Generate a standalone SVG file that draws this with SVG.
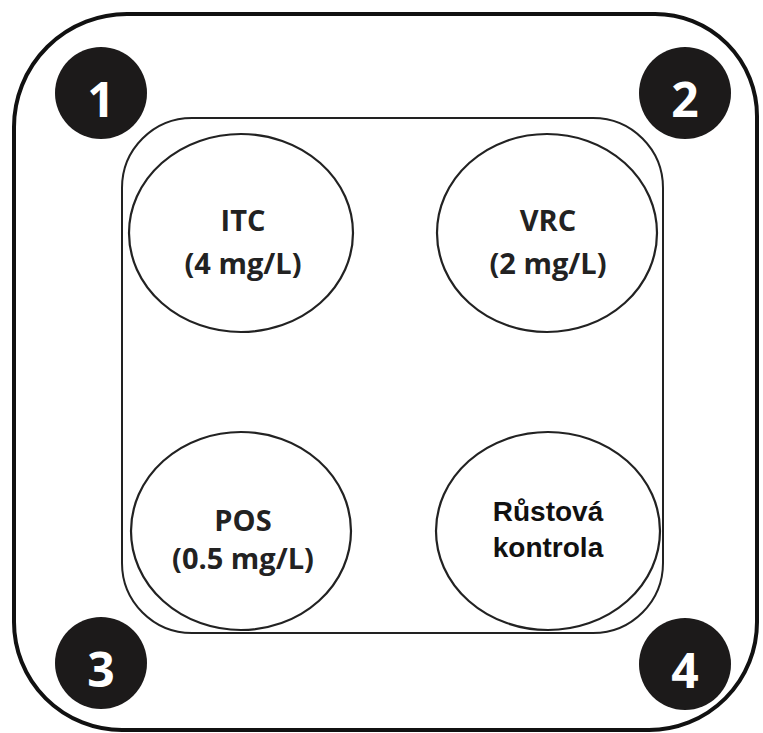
<svg xmlns="http://www.w3.org/2000/svg" width="763" height="733" viewBox="0 0 763 733">
  <style>
    .frame { fill: none; stroke: #111; stroke-width: 4; }
    .tray { fill: none; stroke: #222; stroke-width: 2; }
    .well { fill: #fff; stroke: #222; stroke-width: 2.2; }
    .badge { fill: #1c1a1a; }
    .num { font-family: "Open Sans", "DejaVu Sans", sans-serif; font-weight: bold; font-size: 48px; fill: #fff; text-anchor: middle; }
    .lbl { font-family: "Open Sans", "DejaVu Sans", sans-serif; font-weight: bold; font-size: 29px; fill: #222; text-anchor: middle; }
    .lbl2 { font-family: "Liberation Sans", Arial, sans-serif; font-weight: bold; font-size: 28px; fill: #111; text-anchor: middle; }
  </style>

  <!-- plate outline -->
  <path id="plate" class="frame" d="M128,14 H655 A102,102 0 0 1 757,116 V622 A108,108 0 0 1 649,730 H122 A108,108 0 0 1 14,622 V127 A113,113 0 0 1 128,14 Z"/>

  <!-- tray holding the four wells -->
  <rect id="tray" class="tray" x="122" y="118" width="541" height="515" rx="70" ry="70"/>

  <g id="well-itc">
    <ellipse class="well" cx="241" cy="233" rx="112" ry="99"/>
    <text class="lbl" x="243" y="231">ITC</text>
    <text class="lbl" x="243" y="274">(4 mg/L)</text>
  </g>
  <g id="well-vrc">
    <ellipse class="well" cx="547" cy="233" rx="110" ry="99"/>
    <text class="lbl" x="548" y="231">VRC</text>
    <text class="lbl" x="548" y="274">(2 mg/L)</text>
  </g>
  <g id="well-pos">
    <ellipse class="well" cx="241" cy="531" rx="110" ry="99"/>
    <text class="lbl" x="243" y="531">POS</text>
    <text class="lbl" x="243" y="569">(0.5 mg/L)</text>
  </g>
  <g id="well-control">
    <ellipse class="well" cx="548" cy="531" rx="112" ry="99"/>
    <text class="lbl2" x="548" y="521">Růstová</text>
    <text class="lbl2" x="548" y="557">kontrola</text>
  </g>

  <g id="badge-1">
    <circle class="badge" cx="101" cy="93" r="46"/>
    <text class="num" x="101" y="117">1</text>
  </g>
  <g id="badge-2">
    <circle class="badge" cx="685" cy="93" r="46"/>
    <text class="num" x="685" y="117">2</text>
  </g>
  <g id="badge-3">
    <circle class="badge" cx="101" cy="663" r="46"/>
    <text class="num" x="101" y="687">3</text>
  </g>
  <g id="badge-4">
    <circle class="badge" cx="685" cy="664" r="46"/>
    <text class="num" x="685" y="688">4</text>
  </g>
</svg>
